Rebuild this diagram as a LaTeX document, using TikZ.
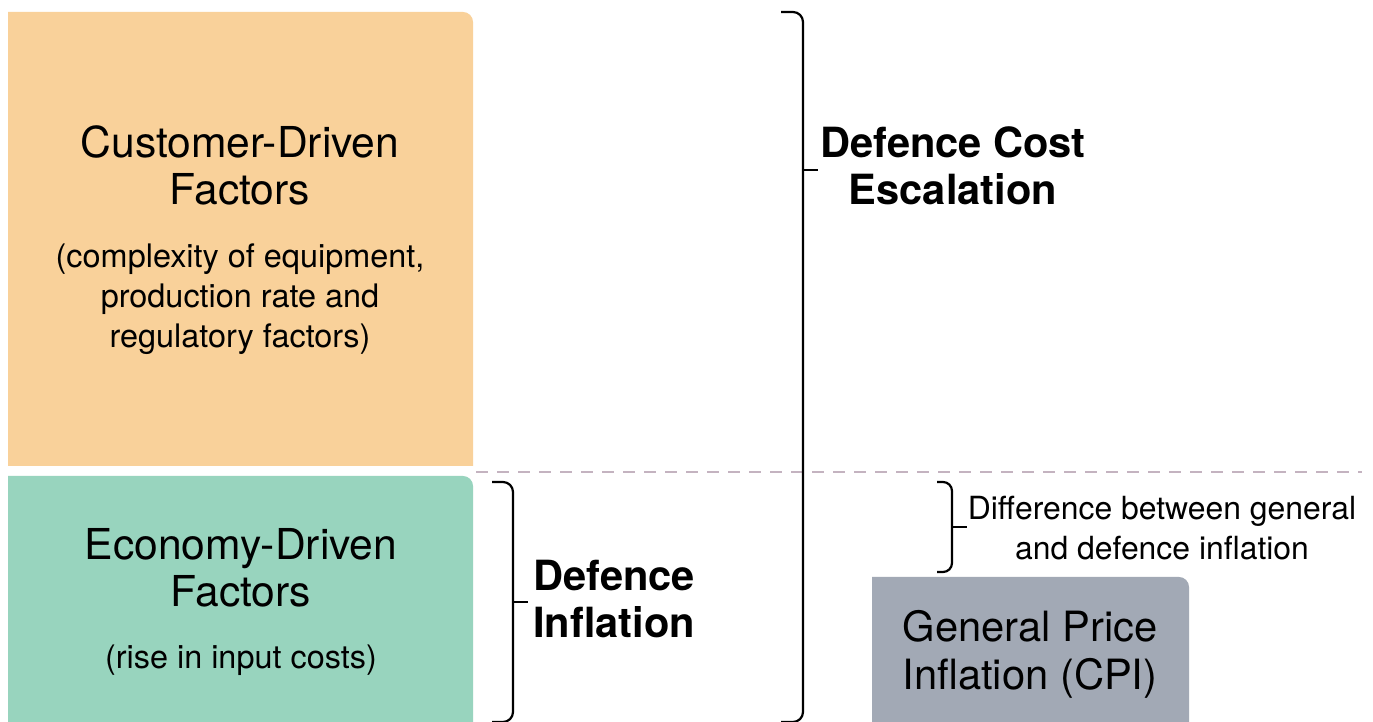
\documentclass[tikz,border=0pt]{standalone}
\usepackage{fontspec}
\setmainfont{TeX Gyre Heros}
\definecolor{custfill}{HTML}{F9D19A}
\definecolor{econfill}{HTML}{98D4BE}
\definecolor{cpifill}{HTML}{A2A9B5}
\definecolor{splitline}{HTML}{C4B3C0}
\begin{document}
\begin{tikzpicture}[x=1pt,y=1pt,
  brace/.style={draw=black,line width=2.2pt,line join=round},
  titletext/.style={inner sep=0pt,align=center,font=\fontsize{42.6}{47}\selectfont},
  subtext/.style={inner sep=0pt,align=center,font=\fontsize{32.4}{40}\selectfont},
  boldtext/.style={inner sep=0pt,align=center,font=\fontsize{41.6}{47}\selectfont\bfseries},
  notetext/.style={inner sep=0pt,align=center,font=\fontsize{31.9}{40}\selectfont},
  cpitext/.style={inner sep=0pt,align=center,font=\fontsize{41.7}{48}\selectfont}]
\useasboundingbox (0,0) rectangle (1373,722);
\fill[white] (0,0) rectangle (1373,722);

% coloured blocks, only the top-right corner rounded
\fill[custfill] (8,256) -- (8,710) -- (463,710) arc (90:0:10) -- (473,256) -- cycle;
\fill[econfill] (8,-2) -- (8,246) -- (463,246) arc (90:0:10) -- (473,-2) -- cycle;
\fill[cpifill] (872,-2) -- (872,145) -- (1179,145) arc (90:0:10) -- (1189,-2) -- cycle;

% dashed separator
\coordinate (sepL) at (476,250);
\coordinate (sepR) at (1362,250);
\draw[splitline,line width=2.4pt,dash pattern=on 12pt off 9pt] (sepL) -- (sepR);

% brace: defence cost escalation
\coordinate (bigtip) at (803,552);
\coordinate (bigtipend) at (818,552);
\draw[brace] (781,710) -- (793,710) arc (90:0:10) -- (803,10) arc (0:-90:10) -- (781,0);
\draw[brace] (bigtip) -- (bigtipend);

% brace: defence inflation
\coordinate (inftip) at (513,120);
\coordinate (inftipend) at (528,120);
\draw[brace] (492,240) -- (503,240) arc (90:0:10) -- (513,10) arc (0:-90:10) -- (492,0);
\draw[brace] (inftip) -- (inftipend);

% brace: difference between general and defence inflation
\coordinate (diftip) at (952,195);
\coordinate (diftipend) at (967,195);
\draw[brace] (937,240) -- (943,240) arc (90:0:9) -- (952,159) arc (0:-90:9) -- (937,150);
\draw[brace] (diftip) -- (diftipend);

% texts
\node[titletext] (custtitle) at (240,556.8) {Customer-Driven\\Factors};
\node[subtext] (custsub) at (240,423) {(complexity of equipment,\\production rate and\\regulatory factors)};
\node[titletext] (econtitle) at (241,154.3) {Economy-Driven\\Factors};
\node[subtext] (econsub) at (241,62) {(rise in input costs)};
\node[boldtext] (esc) at (953,556.7) {Defence Cost\\Escalation};
\node[boldtext] (definf) at (614,123.2) {Defence\\Inflation};
\node[notetext] (diff) at (1162,194.2) {Difference between general\\and defence inflation};
\node[cpitext] (cpi) at (1030,68) {General Price\\Inflation (CPI)};
\end{tikzpicture}
\end{document}
